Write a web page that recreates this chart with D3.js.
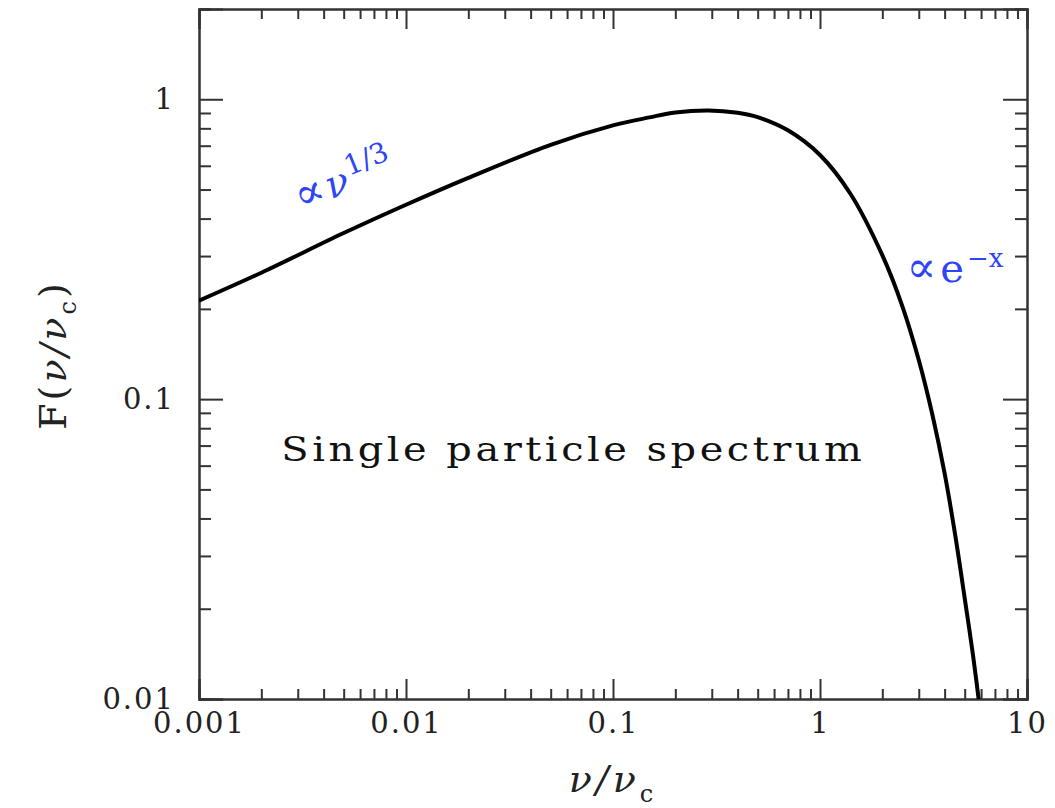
<!DOCTYPE html>
<html>
<head>
<meta charset="utf-8">
<script src="https://cdn.jsdelivr.net/npm/d3@7"></script>
<style>
  body { margin: 0; background: #fff; }
  text { font-family: "DejaVu Serif", serif; }
</style>
</head>
<body>
<div id="chartContent"></div>
<script>
// nu/nu_c values and F(nu/nu_c)
var nuRatio = [0.001, 0.002, 0.005, 0.01, 0.02, 0.05, 0.1, 0.15, 0.2, 0.29, 0.4, 0.5, 0.7, 1, 1.4, 2, 2.5, 3, 3.5, 4, 4.5, 5, 5.5, 6]
var fValue  = [0.213, 0.264, 0.358, 0.445, 0.547, 0.705, 0.818, 0.870, 0.904, 0.918, 0.902, 0.872, 0.788, 0.652, 0.485, 0.302, 0.204, 0.135, 0.088, 0.0565, 0.0352, 0.0217, 0.0138, 0.0086]

var xMajor = [0.001, 0.01, 0.1, 1, 10]
var xMajorLabels = ["0.001", "0.01", "0.1", "1", "10"]
var yMajor = [0.01, 0.1, 1]
var yMajorLabels = ["0.01", "0.1", "1"]

var width = 1055, height = 808
var margin = {left: 199, right: 28, top: 9, bottom: 109}
var plotW = width - margin.left - margin.right
var plotH = height - margin.top - margin.bottom

var svg = d3.select("#chartContent")
    .append("svg")
    .attr("width", width)
    .attr("height", height)

var g = svg.append("g")
    .attr("transform", `translate(${margin.left},${margin.top})`)

var x = d3.scaleLog().domain([0.001, 10]).range([0, plotW])
var y = d3.scaleLog().domain([0.01, 2]).range([plotH, 0])

//minor ticks: 2..9 times each decade
var xMinor = []
xMajor.slice(0, -1).forEach(d => { for (var k = 2; k < 10; k++) xMinor.push(d * k) })
var yMinor = []
yMajor.forEach(d => { for (var k = 2; k < 10; k++) if (d * k <= 2.0001) yMinor.push(d * k) })

function styleAxis(sel) {
    sel.select(".domain").attr("stroke", "#333").attr("stroke-width", 2)
    sel.selectAll(".tick line").attr("stroke", "#333").attr("stroke-width", 2)
    sel.selectAll(".tick text").attr("fill", "#222").style("font-size", "29px")
        .style("font-family", "'DejaVu Serif', serif")
        .style("letter-spacing", "2px")
}

//bottom
g.append("g").attr("transform", `translate(0,${plotH})`)
    .call(d3.axisBottom(x).tickValues(xMajor).tickFormat((d, i) => xMajorLabels[i]).tickSize(-20).tickPadding(13))
    .call(styleAxis)
g.append("g").attr("transform", `translate(0,${plotH})`)
    .call(d3.axisBottom(x).tickValues(xMinor).tickFormat("").tickSize(-10))
    .call(styleAxis)
//top
g.append("g")
    .call(d3.axisTop(x).tickValues(xMajor).tickFormat("").tickSize(-20))
    .call(styleAxis)
g.append("g")
    .call(d3.axisTop(x).tickValues(xMinor).tickFormat("").tickSize(-10))
    .call(styleAxis)
//left
g.append("g")
    .call(d3.axisLeft(y).tickValues(yMajor).tickFormat((d, i) => yMajorLabels[i]).tickSize(-24).tickPadding(24))
    .call(styleAxis)
g.append("g")
    .call(d3.axisLeft(y).tickValues(yMinor).tickFormat("").tickSize(-12))
    .call(styleAxis)
//right
g.append("g").attr("transform", `translate(${plotW},0)`)
    .call(d3.axisRight(y).tickValues(yMajor).tickFormat("").tickSize(-24))
    .call(styleAxis)
g.append("g").attr("transform", `translate(${plotW},0)`)
    .call(d3.axisRight(y).tickValues(yMinor).tickFormat("").tickSize(-12))
    .call(styleAxis)

//the curve, clipped to the box
svg.append("defs").append("clipPath").attr("id", "clip")
    .append("rect").attr("width", plotW).attr("height", plotH)

var points = nuRatio.map((d, i) => [d, fValue[i]])
var line = d3.line()
    .x(d => x(d[0]))
    .y(d => y(d[1]))
    .curve(d3.curveCatmullRom.alpha(0.5))

g.append("path")
    .datum(points)
    .attr("clip-path", "url(#clip)")
    .attr("fill", "none")
    .attr("stroke", "#000")
    .attr("stroke-width", 4)
    .attr("d", line)

//annotations
var blue = "#2e44f6"
var a1 = g.append("text")
    .attr("transform", `translate(${x(0.0031)},${y(0.47) + 14}) rotate(-22)`)
    .attr("fill", blue)
    .style("font-size", "38px")
a1.append("tspan").style("font-size", "44px").text("∝")
a1.append("tspan").attr("dx", 3).style("font-style", "italic").text("ν")
a1.append("tspan").attr("dy", -15).attr("dx", 2).style("font-size", "28px").text("1/3")

var a2 = g.append("text")
    .attr("x", x(2.62))
    .attr("y", y(0.3) + 26)
    .attr("fill", blue)
    .style("font-size", "40px")
a2.append("tspan").style("font-size", "44px").text("∝")
a2.append("tspan").attr("dx", 4).text("e")
a2.append("tspan").attr("dy", -15).attr("dx", 3).style("font-size", "26px").text("−x")

g.append("text")
    .attr("x", x(0.0025))
    .attr("y", y(0.1) + 62)
    .attr("fill", "#111")
    .attr("textLength", 584)
    .attr("lengthAdjust", "spacingAndGlyphs")
    .style("font-size", "34px")
    .style("letter-spacing", "3px")
    .text("Single particle spectrum")

//axis titles
var xt = svg.append("text")
    .attr("x", margin.left + plotW / 2)
    .attr("y", 792)
    .attr("text-anchor", "middle")
    .attr("fill", "#222")
    .style("font-size", "38px")
    .style("letter-spacing", "4px")
xt.append("tspan").style("font-style", "italic").text("ν/ν")
xt.append("tspan").attr("dy", 10).style("font-size", "24px").text("c")

var yt = svg.append("text")
    .attr("transform", `translate(66,355) rotate(-90)`)
    .attr("text-anchor", "middle")
    .attr("fill", "#222")
    .style("font-size", "38px")
    .style("letter-spacing", "3px")
yt.append("tspan").text("F(")
yt.append("tspan").style("font-style", "italic").text("ν/ν")
yt.append("tspan").attr("dy", 10).style("font-size", "24px").text("c")
yt.append("tspan").attr("dy", -10).text(")")
</script>
</body>
</html>
